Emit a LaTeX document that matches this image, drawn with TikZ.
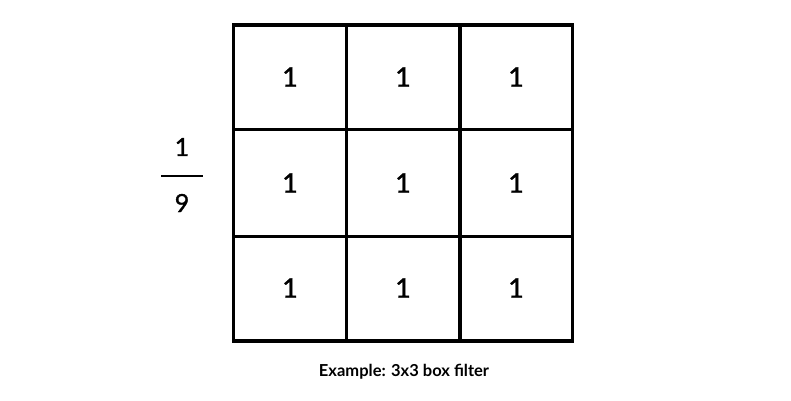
\documentclass[tikz,border=0pt]{standalone}
\usepackage{fontspec}
\setmainfont{Lato}
\newfontfamily\numfont[FakeBold=1.2]{Lato}
\begin{document}
\begin{tikzpicture}[x=1pt, y=-1pt,
  cell/.style={line width=3.3pt},
  num/.style={font=\numfont\fontsize{27}{27}\selectfont},
  frac/.style={font=\numfont\fontsize{25}{25}\selectfont},
  caption/.style={font=\bfseries\fontsize{16.5}{16.5}\selectfont}]
\useasboundingbox (0, 0) rectangle (791, 400);

\draw [cell] (233.5, 25) rectangle (572.5, 341);
\draw [cell] (346.5, 25) -- (346.5, 341);
\draw [cell] (460, 25) -- (460, 341);
\draw [cell] (233.5, 129.5) -- (572.5, 129.5);
\draw [cell] (233.5, 236.5) -- (572.5, 236.5);

\node [num] (a1) at (290, 77) {1};
\node [num] (a2) at (403, 77) {1};
\node [num] (a3) at (516, 77) {1};

\node [num] (b1) at (290, 183) {1};
\node [num] (b2) at (403, 183) {1};
\node [num] (b3) at (516, 183) {1};

\node [num] (c1) at (290, 288) {1};
\node [num] (c2) at (403, 288) {1};
\node [num] (c3) at (516, 288) {1};

\node [frac] (top) at (182, 147) {1};
\node [frac] (bottom) at (182, 203) {9};
\draw [line width=2.8pt] (161, 176) -- (203, 176);

\node [caption] (label) at (404, 372) {Example: 3x3 box filter};
\end{tikzpicture}
\end{document}
